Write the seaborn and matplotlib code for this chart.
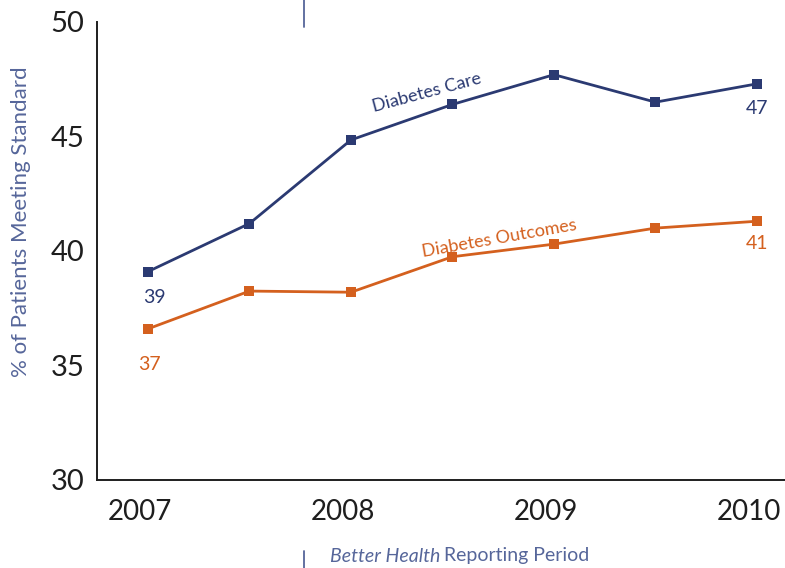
import matplotlib
matplotlib.use("Agg")
import matplotlib.pyplot as plt
import matplotlib.transforms as mtransforms
import seaborn as sns
import pandas as pd

sns.set_style("white")
plt.rcParams['font.family'] = ['Lato', 'DejaVu Sans']

periods = ["2007", "2007b", "2008", "2008b", "2009", "2009b", "2010"]
positions = [0, 1, 2, 3, 4, 5, 6]
care = [39.1, 41.2, 44.85, 46.4, 47.7, 46.5, 47.3]
outcomes = [36.6, 38.25, 38.2, 39.75, 40.3, 41.0, 41.3]
series_names = ["Diabetes Care", "Diabetes Outcomes"]
year_ticks = [0, 2, 4, 6]
year_labels = ["2007", "2008", "2009", "2010"]
y_ticks = [30, 35, 40, 45, 50]

navy = "#2B3A72"
orange = "#D4601E"
slate = "#56669A"
ink = "#1E1E1E"

df = pd.DataFrame({
    "pos": positions * 2,
    "value": care + outcomes,
    "series": [series_names[0]] * 7 + [series_names[1]] * 7,
})

W, H = 785, 568
fig = plt.figure(figsize=(W / 100, H / 100), dpi=100)
ax = fig.add_axes([97 / W, 88 / H, (W - 97) / W, 458 / H])

sns.lineplot(data=df, x="pos", y="value", hue="series",
             palette={series_names[0]: navy, series_names[1]: orange},
             marker="s", markersize=7, markeredgewidth=0, linewidth=2,
             legend=False, ax=ax)

ax.set_xlim(-0.502, 6.276)
ax.set_ylim(30, 50)
ax.set_yticks(y_ticks)
ax.set_yticklabels([str(t) for t in y_ticks], fontsize=21, color=ink)
ax.set_xticks(year_ticks)
ax.set_xticklabels(year_labels, fontsize=20, color=ink)
ax.tick_params(axis='y', direction='in', length=13, width=1.3, color=ink, pad=9)
ax.tick_params(axis='x', length=0, pad=14)
shift = mtransforms.ScaledTranslation(-8 / 100, 0, fig.dpi_scale_trans)
for lab in ax.get_xticklabels():
    lab.set_transform(lab.get_transform() + shift)
for s in ["top", "right"]:
    ax.spines[s].set_visible(False)
for s in ["left", "bottom"]:
    ax.spines[s].set_color(ink)
    ax.spines[s].set_linewidth(1.4)
ax.set_xlabel("")
ax.set_ylabel("% of Patients Meeting Standard", fontsize=16, color=slate)
ax.yaxis.set_label_coords(-66 / (W - 97), 0.565)

# value labels
ax.annotate(f"{round(care[0])}", (positions[0], care[0]), xytext=(5, -19),
            textcoords="offset points", ha="center", va="center", fontsize=14, color=navy)
ax.annotate(f"{round(outcomes[0])}", (positions[0], outcomes[0]), xytext=(1, -26),
            textcoords="offset points", ha="center", va="center", fontsize=14, color=orange)
ax.annotate(f"{round(care[-1])}", (positions[-1], care[-1]), xytext=(0, -18),
            textcoords="offset points", ha="center", va="center", fontsize=14, color=navy)
ax.annotate(f"{round(outcomes[-1])}", (positions[-1], outcomes[-1]), xytext=(0, -16),
            textcoords="offset points", ha="center", va="center", fontsize=14, color=orange)

# series labels
ax.text(2.75, 46.9, series_names[0], rotation=15, fontsize=13, color=navy,
        ha="center", va="center", rotation_mode="anchor")
ax.text(3.46, 40.55, series_names[1], rotation=10, fontsize=13, color=orange,
        ha="center", va="center", rotation_mode="anchor")

# decorative marks
fig.add_artist(plt.Line2D([304 / W, 304 / W], [1, 1 - 27 / H], color=slate, lw=1.3))
fig.add_artist(plt.Line2D([304 / W, 304 / W], [1 - 551 / H, 0], color=slate, lw=1.3))

t1 = fig.text(330 / W, 1 - 556 / H, "Better Health", fontsize=14, style="italic",
              color=slate, ha="left", va="center")
fig.canvas.draw()
bb = t1.get_window_extent()
fig.text(bb.x1 / W + 4 / W, 1 - 556 / H, "Reporting Period", fontsize=14,
         color=slate, ha="left", va="center")

fig.savefig("out.png", dpi=100)
